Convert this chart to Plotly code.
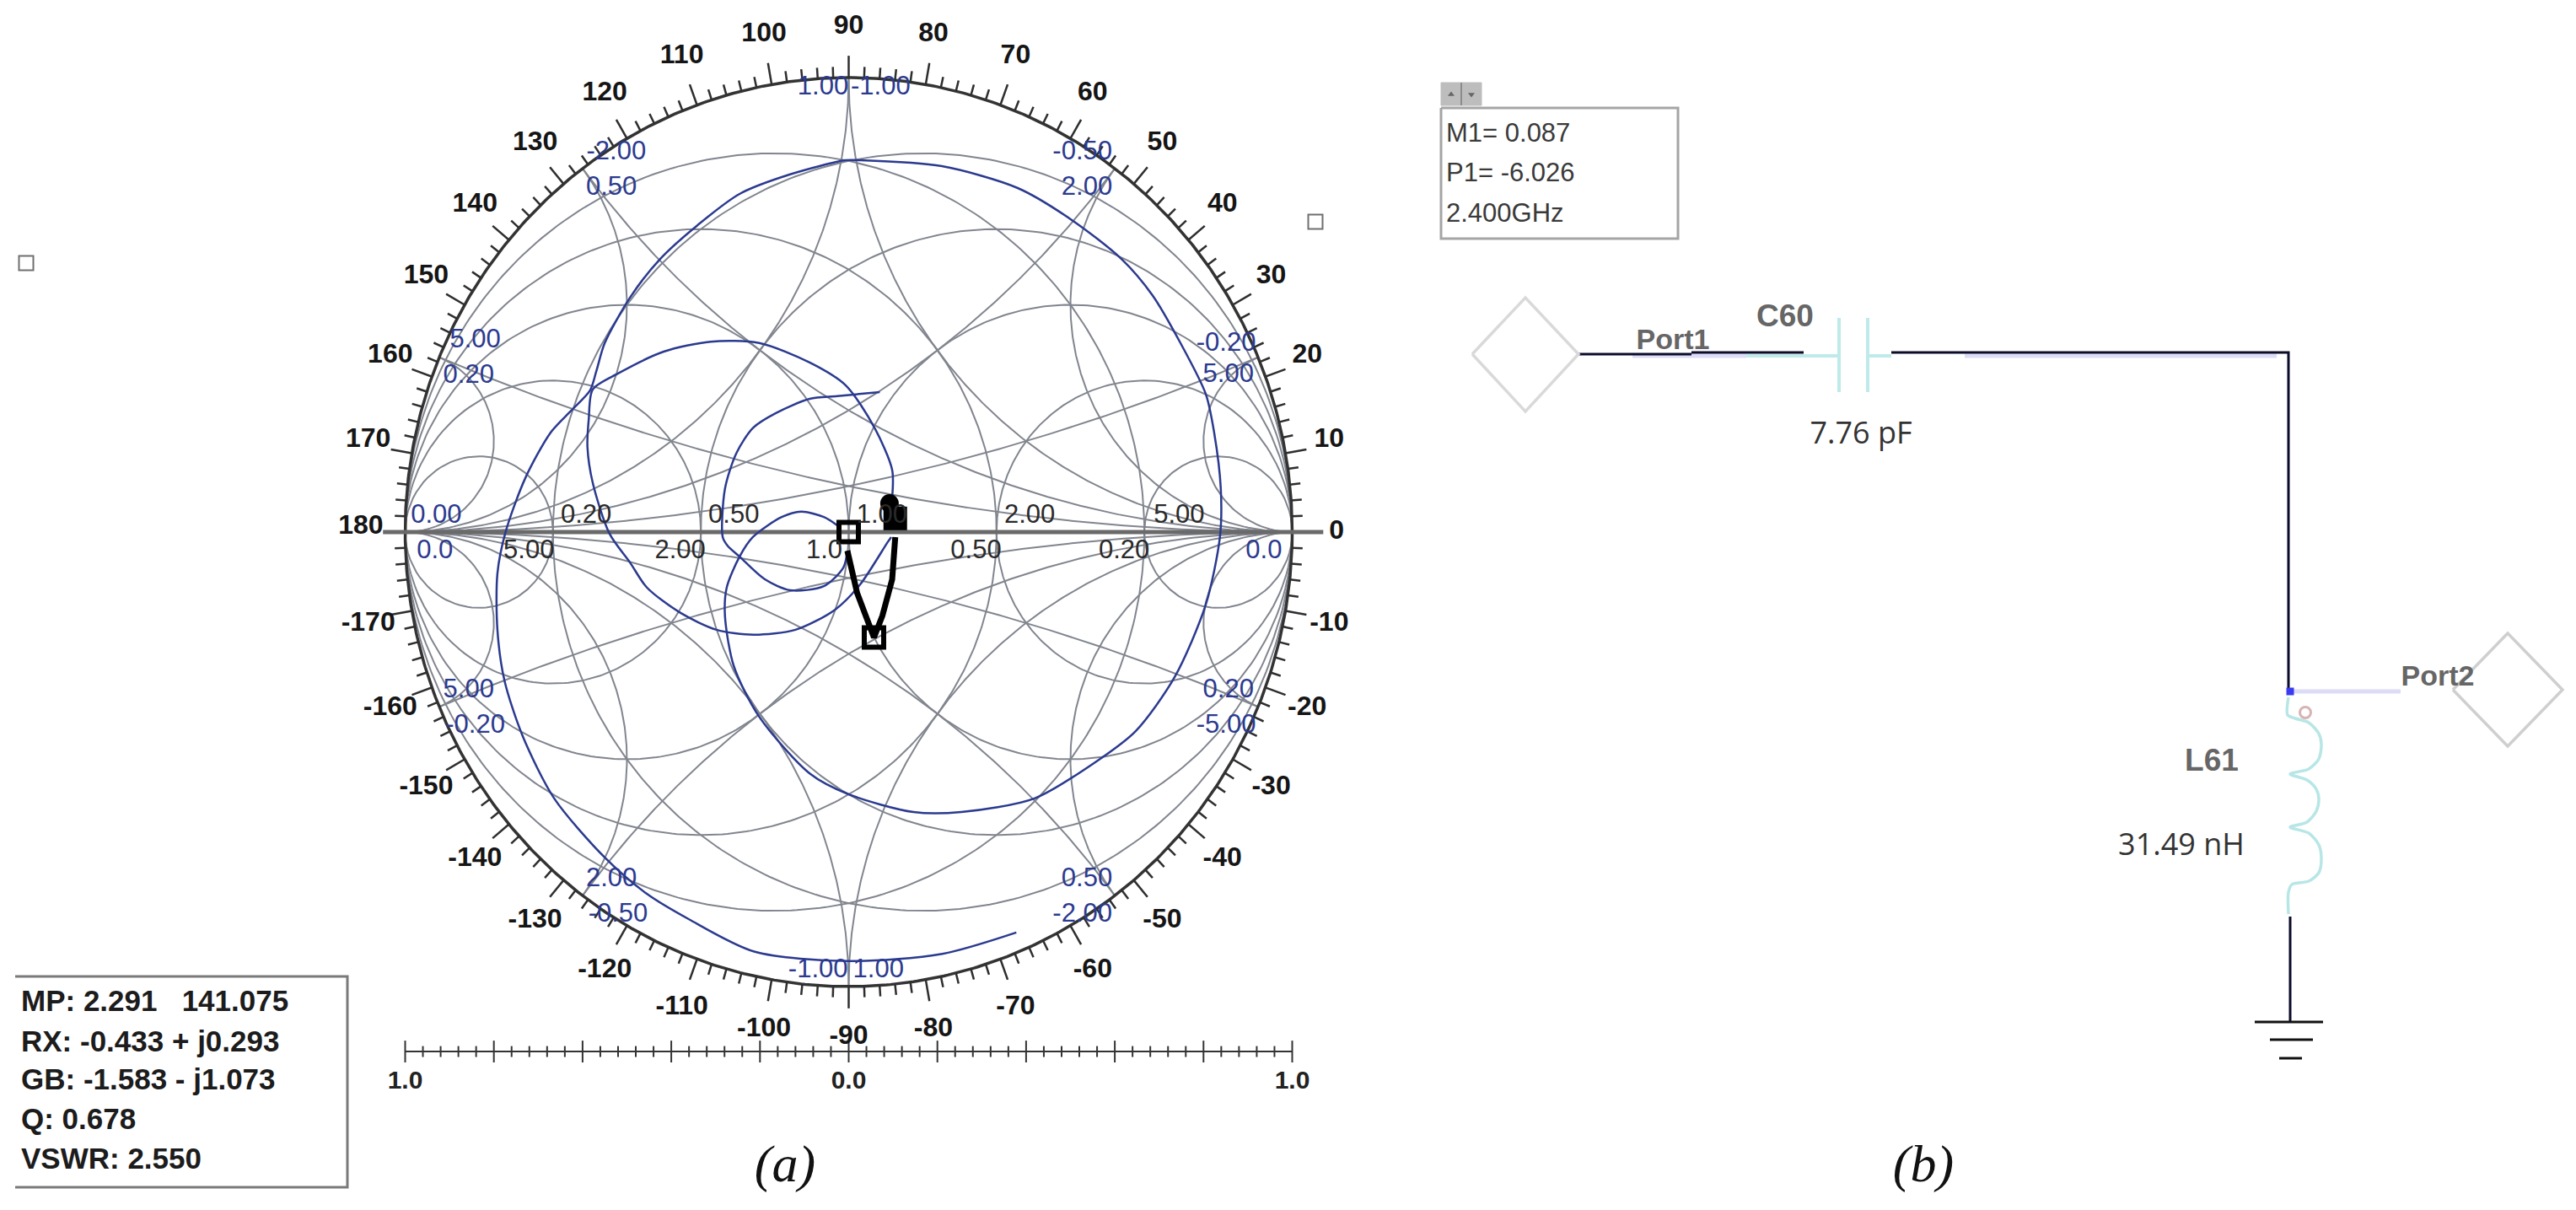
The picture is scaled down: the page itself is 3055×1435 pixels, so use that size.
import numpy as np
import plotly.graph_objects as go

# Smith chart values (re, im)
GRID_VALUES = [0.2, 0.5, 1.0, 2.0, 5.0]

OUTER_RE = [0.378, 0.211, 0.0, -0.213, -0.36, -0.455, -0.55, -0.664, -0.735, -0.776, -0.792, -0.792, -0.773, -0.729, -0.672, -0.626, -0.583, -0.569, -0.55, -0.493, -0.425, -0.341, -0.246, -0.132, -0.007, 0.026, 0.21, 0.381, 0.501, 0.615, 0.685, 0.748, 0.805, 0.824, 0.839, 0.837, 0.805, 0.735, 0.647, 0.558, 0.419, 0.254, 0.146, 0.0, -0.088, -0.202, -0.259, -0.279, -0.275, -0.246, -0.216, -0.151, -0.107, -0.056, -0.026]
OUTER_IM = [-0.881, -0.928, -0.944, -0.923, -0.852, -0.796, -0.716, -0.586, -0.449, -0.327, -0.215, -0.091, 0.002, 0.119, 0.219, 0.267, 0.312, 0.354, 0.416, 0.516, 0.601, 0.675, 0.744, 0.787, 0.818, 0.818, 0.805, 0.757, 0.688, 0.601, 0.521, 0.416, 0.304, 0.219, 0.095, -0.011, -0.16, -0.319, -0.438, -0.505, -0.586, -0.616, -0.616, -0.577, -0.531, -0.406, -0.295, -0.184, -0.122, -0.054, -0.011, 0.033, 0.045, 0.033, 0.015]
MIDDLE_RE = [0.098, 0.098, 0.058, -0.007, -0.088, -0.202, -0.311, -0.417, -0.52, -0.577, -0.586, -0.589, -0.577, -0.539, -0.493, -0.455, -0.379, -0.298, -0.215, -0.12, -0.031, 0.026, 0.088, 0.096]
MIDDLE_IM = [0.076, 0.137, 0.23, 0.323, 0.373, 0.416, 0.419, 0.397, 0.349, 0.314, 0.249, 0.187, 0.108, -0.004, -0.067, -0.122, -0.178, -0.215, -0.226, -0.215, -0.171, -0.115, -0.022, -0.011]
INNER_RE = [0.07, -0.026, -0.088, -0.164, -0.215, -0.253, -0.279, -0.284, -0.273, -0.246, -0.189, -0.132, -0.056, -0.012, -0.003]
INNER_IM = [0.308, 0.299, 0.293, 0.262, 0.23, 0.174, 0.095, -0.011, -0.03, -0.054, -0.104, -0.128, -0.119, -0.078, -0.041]
MATCH_RE = [-0.003, 0.019, 0.057, 0.076, 0.098, 0.105]
MATCH_IM = [-0.041, -0.134, -0.232, -0.184, -0.104, -0.011]
OPEN_MARKER_RE = [0.0, 0.057]
OPEN_MARKER_IM = [0.0, -0.232]
END_MARKER_RE = [0.105]
END_MARKER_IM = [0.03]
END_DOT_RE = [0.092]
END_DOT_IM = [0.063]

ANGLE_LABELS = [0, 10, 20, 30, 40, 50, 60, 70, 80, 90, 100, 110, 120, 130, 140, 150, 160, 170, 180,
                -10, -20, -30, -40, -50, -60, -70, -80, -90, -100, -110, -120, -130, -140, -150, -160, -170]

BLUE_TEXT = ["1.00", "-1.00", "-2.00", "0.50", "-0.50", "2.00", "5.00", "0.20", "-0.20", "5.00", "0.00", "0.0", "0.0",
             "5.00", "-0.20", "0.20", "-5.00", "2.00", "-0.50", "0.50", "-2.00", "-1.00", "1.00"]
BLUE_RE = [-0.058, 0.072, -0.524, -0.535, 0.527, 0.537, -0.842, -0.857, 0.851, 0.856, -0.93, -0.933, 0.936,
           -0.857, -0.842, 0.856, 0.851, -0.535, -0.52, 0.537, 0.527, -0.069, 0.067]
BLUE_IM = [0.978, 0.978, 0.835, 0.756, 0.835, 0.756, 0.421, 0.342, 0.413, 0.344, 0.034, -0.043, -0.043,
           -0.349, -0.428, -0.349, -0.428, -0.765, -0.842, -0.765, -0.842, -0.965, -0.965]

AXIS_TEXT = ["0.20", "0.50", "1.00", "2.00", "5.00", "5.00", "2.00", "1.0", "0.50", "0.20"]
AXIS_RE = [-0.592, -0.259, 0.075, 0.408, 0.745, -0.721, -0.38, -0.055, 0.287, 0.621]
AXIS_IM = [0.034, 0.034, 0.034, 0.034, 0.034, -0.043, -0.043, -0.043, -0.043, -0.043]

SCALE_TEXT = ["1.0", "0.0", "1.0"]
SCALE_RE = [-1.0, 0.0, 1.0]

READOUT_LINES = ["MP: 2.291\u00a0\u00a0\u00a0141.075", "RX: -0.433 + j0.293", "GB: -1.583 - j1.073", "Q: 0.678", "VSWR: 2.550"]
READOUT_Y = [1190, 1238, 1283, 1330, 1377]
MARKER_LINES = ["M1= 0.087", "P1= -6.026", "2.400GHz"]
MARKER_Y = [160, 207, 255]

# Schematic, in page pixels
WIRE_X = [1872, 2006, None, 2006, 2139, None, 2243, 2714, 2714, None, 2716, 2716]
WIRE_Y = [420, 420, None, 418, 418, None, 418, 418, 817, None, 1087, 1211]
LAVENDER_X = [1936, 2071, None, 2330, 2700, None, 2716, 2847]
LAVENDER_Y = [422, 422, None, 422, 422, None, 820, 820]
TEAL_X = [2071, 2181, None, 2215, 2243, None, 2181, 2181, None, 2215, 2215]
TEAL_Y = [422, 422, None, 422, 422, None, 377, 465, None, 377, 465]
COIL_X = [2714, 2713, 2722, 2738, 2750, 2753, 2750, 2738, 2716, 2736, 2747, 2750, 2747, 2736, 2716, 2738, 2750, 2753, 2750, 2738, 2718, 2714, 2714]
COIL_Y = [827, 848, 852, 857, 870, 883, 900, 912, 918, 925, 936, 948, 962, 975, 981, 988, 1002, 1019, 1035, 1045, 1049, 1058, 1084]
GROUND_X = [2674, 2755, None, 2692, 2743, None, 2703, 2730]
GROUND_Y = [1212, 1212, None, 1233, 1233, None, 1255, 1255]
PORT1_X = [1746, 1809, 1872, 1809, 1746]
PORT1_Y = [420, 353, 420, 488, 420]
PORT2_X = [2909, 2974, 3039, 2974, 2909]
PORT2_Y = [818, 751, 818, 885, 818]

# page pixel position of the unit circle
CX, CY, RX, RY = 1006.5, 631, 526, 539
PAGE_W, PAGE_H = 3055, 1435

GRID_COLOR = "#81858e"
BLUE = "#2b3a8f"
GREY_TEXT = "#666666"


def to_gamma(z):
    return (z - 1) / (z + 1)


def grid_lines():
    xs, ys = [], []
    t = np.linspace(-np.pi / 2 + 1e-4, np.pi / 2 - 1e-4, 400)
    s = np.tan(np.linspace(0, np.pi / 2 - 1e-4, 300))
    for v in GRID_VALUES:
        curves = [to_gamma(v + 1j * np.tan(t))]
        curves.append(to_gamma(s + 1j * v))
        curves.append(to_gamma(s - 1j * v))
        for g in curves:
            for sign in (1, -1):
                xs += list(sign * g.real) + [None]
                ys += list(g.imag) + [None]
    return xs, ys


def tick_lines():
    xs, ys = [], []
    for deg in range(-178, 182, 2):
        a = np.radians(deg)
        r = 1.048 if deg % 10 == 0 else 1.024
        xs += [np.cos(a), r * np.cos(a), None]
        ys += [np.sin(a), r * np.sin(a), None]
    return xs, ys


def scale_lines():
    xs, ys = [], []
    for i in range(51):
        v = -1 + i * 0.04
        h = 0.024 if i % 5 == 0 else 0.012
        xs += [v, v, None]
        ys += [-1.143 - h, -1.143 + h, None]
    xs += [-1, 1]
    ys += [-1.143, -1.143]
    return xs, ys


fig = go.Figure()


def line(x, y, color, width, shape="linear", page=False):
    fig.add_trace(go.Scatter(x=x, y=y, mode="lines", line=dict(color=color, width=width, shape=shape, smoothing=0.8),
                             xaxis="x2" if page else "x", yaxis="y2" if page else "y"))


def text(x, y, labels, size, color, family="Liberation Sans", pos="middle center", page=False, bold=False, italic=False):
    fig.add_trace(go.Scatter(x=x, y=y, mode="text", text=labels, textposition=pos,
                             textfont=dict(size=size, color=color, family=family,
                                           weight="bold" if bold else "normal",
                                           style="italic" if italic else "normal"),
                             xaxis="x2" if page else "x", yaxis="y2" if page else "y"))


def markers(x, y, symbol, size, color, width=0, page=False):
    fig.add_trace(go.Scatter(x=x, y=y, mode="markers",
                             marker=dict(symbol=symbol, size=size, color=color, line=dict(color=color, width=width)),
                             xaxis="x2" if page else "x", yaxis="y2" if page else "y"))


# chart grid
gx, gy = grid_lines()
line(gx, gy, GRID_COLOR, 2)
a = np.linspace(0, 2 * np.pi, 720)
line(np.cos(a), np.sin(a), "#333333", 3.5)
tx, ty = tick_lines()
line(tx, ty, "#2e2e2e", 2.5)
line([-1.05, 1.07], [0, 0], "#6a6a6a", 5)
sx, sy = scale_lines()
line(sx, sy, "#333333", 2)

# impedance trace
line(OUTER_RE, OUTER_IM, BLUE, 2.5, "spline")
line(MIDDLE_RE, MIDDLE_IM, BLUE, 2.5, "spline")
line(INNER_RE, INNER_IM, BLUE, 2.5, "spline")
line(MATCH_RE, MATCH_IM, "#000000", 7)
markers(OPEN_MARKER_RE, OPEN_MARKER_IM, "square-open", 23, "#000000", 6)
markers(END_MARKER_RE, END_MARKER_IM, "square", 28, "#000000")
markers(END_DOT_RE, END_DOT_IM, "circle", 22, "#000000")

# chart labels
ang = np.radians(ANGLE_LABELS)
text(1.10 * np.cos(ang), 1.10 * np.sin(ang) + 0.012 * np.sign(np.sin(ang)), [str(v) for v in ANGLE_LABELS], 32, "#151515", bold=True)
text(BLUE_RE, BLUE_IM, BLUE_TEXT, 31, BLUE)
text(AXIS_RE, AXIS_IM, AXIS_TEXT, 31, "#2a2a2a")
text(SCALE_RE, [-1.211] * 3, SCALE_TEXT, 30, "#222222", bold=True)

# readout box, left edge is not visible in the picture
line([18, 412, 412, 18], [1158, 1158, 1408, 1408], "#7a7a7a", 3, page=True)
text([25] * 5, READOUT_Y, READOUT_LINES, 35, "#1c1c1c", pos="middle right", page=True, bold=True)
markers([31, 1560], [312, 263], "square-open", 17, "#6f6f6f", 2, page=True)

# marker box of the schematic
fig.add_trace(go.Scatter(x=[1709, 1757, 1757, 1709, 1709], y=[98, 98, 125, 125, 98], mode="lines", fill="toself",
                         fillcolor="#bdbdbd", line=dict(color="#bdbdbd", width=1), xaxis="x2", yaxis="y2"))
line([1733, 1733], [98, 125], "#8c8c8c", 2, page=True)
markers([1721], [112], "triangle-up", 7, "#666666", page=True)
markers([1745], [112], "triangle-down", 7, "#666666", page=True)
line([1709, 1990, 1990, 1709, 1709], [128, 128, 283, 283, 128], "#a5a5a5", 3, page=True)
text([1715] * 3, MARKER_Y, MARKER_LINES, 31, "#3a3a3a", pos="middle right", page=True)

# schematic
line(LAVENDER_X, LAVENDER_Y, "#dcdcf6", 5, page=True)
line(TEAL_X, TEAL_Y, "#bfeaea", 4, page=True)
line(COIL_X, COIL_Y, "#b8e6e6", 3.5, "spline", page=True)
line(WIRE_X, WIRE_Y, "#0b0b2a", 3, page=True)
line(GROUND_X, GROUND_Y, "#111111", 3, page=True)
line(PORT1_X, PORT1_Y, "#d9d9d9", 3.5, page=True)
line(PORT2_X, PORT2_Y, "#cfcfcf", 3.5, page=True)
markers([2716], [820], "square", 9, "#3a3af0", page=True)
markers([2734], [845], "circle-open", 13, "#d6b4b4", 3, page=True)

text([1984, 2891], [405, 804], ["Port1", "Port2"], 34, GREY_TEXT, page=True, bold=True)
text([2117, 2623], [378, 905], ["C60", "L61"], 37, GREY_TEXT, page=True, bold=True)
text([2207, 2587], [517, 1005], ["7.76 pF", "31.49 nH"], 36, "#333333", family="Open Sans", page=True)
text([931, 2281], [1385, 1385], ["(a)", "(b)"], 62, "#111111", family="Liberation Serif", page=True, italic=True)

fig.update_layout(
    width=PAGE_W, height=PAGE_H, margin=dict(l=0, r=0, t=0, b=0),
    paper_bgcolor="white", plot_bgcolor="white", showlegend=False, hovermode=False,
    xaxis=dict(range=[-CX / RX, (PAGE_W - CX) / RX], domain=[0, 1], visible=False),
    yaxis=dict(range=[(CY - PAGE_H) / RY, CY / RY], domain=[0, 1], visible=False),
    xaxis2=dict(range=[0, PAGE_W], domain=[0, 1], visible=False, overlaying="x"),
    yaxis2=dict(range=[PAGE_H, 0], domain=[0, 1], visible=False, overlaying="y"),
)

fig.write_html("out.html", config=dict(displayModeBar=False), post_script="document.body.style.margin='0'")
